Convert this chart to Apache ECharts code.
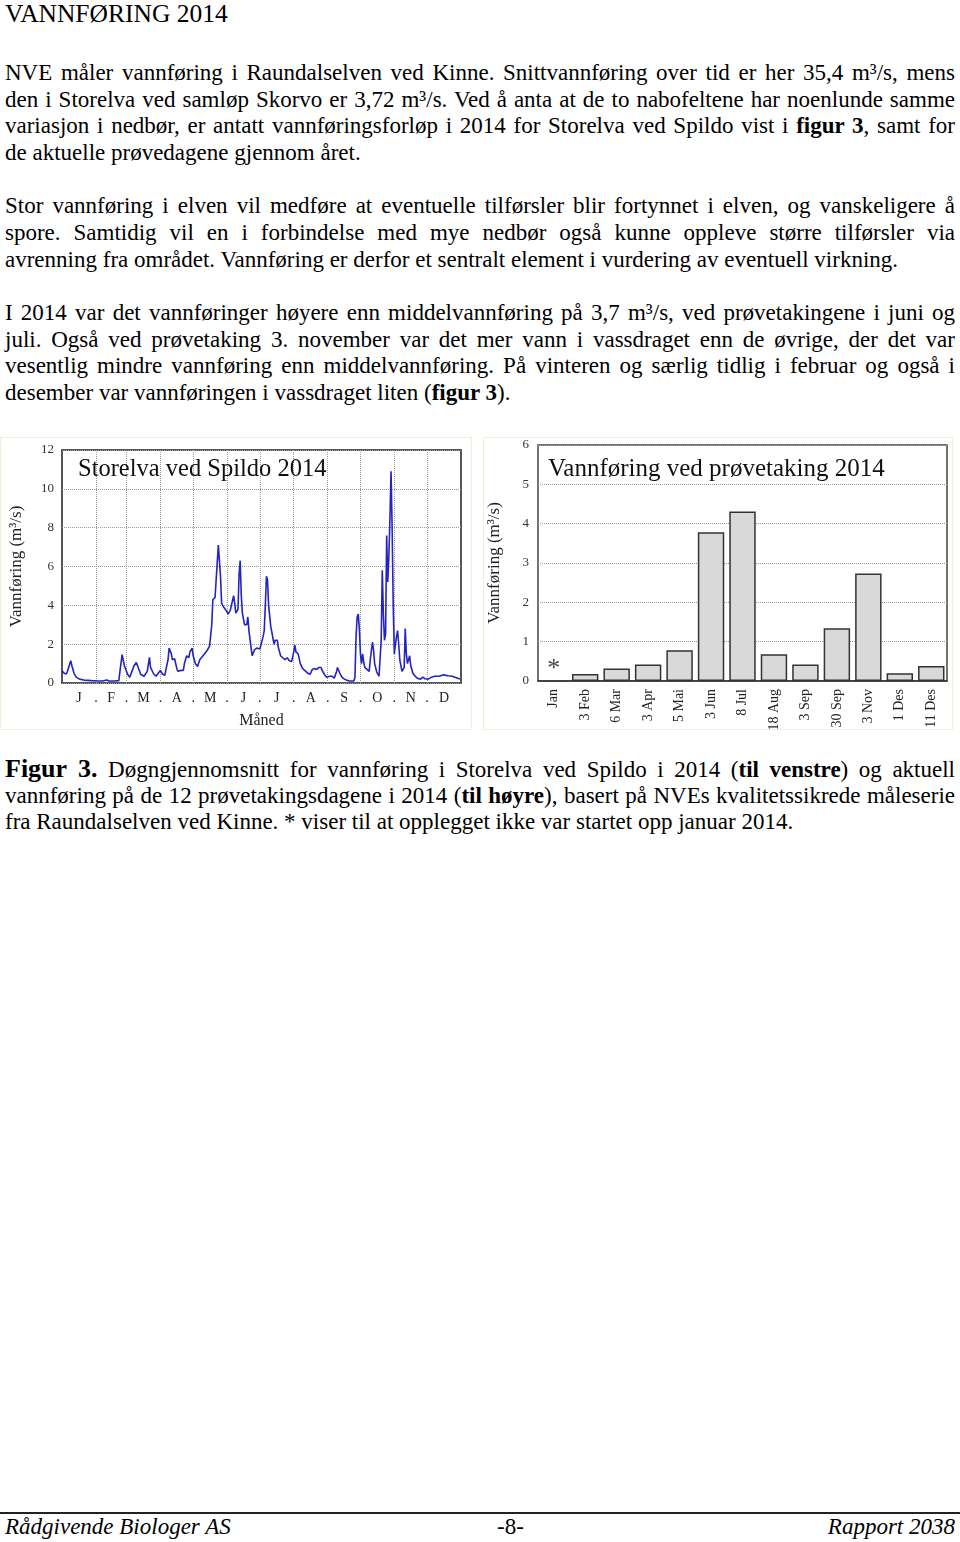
<!DOCTYPE html>
<html>
<head>
<meta charset="utf-8">
<title>Vannføring 2014</title>
<script src="https://cdn.jsdelivr.net/npm/echarts@6/dist/echarts.min.js"></script>
<style>
    body {
        margin: 0;
        background: #fff;
    }

    .page {
        position: relative;
        width: 960px;
        height: 1542px;
        font-family: 'Liberation Serif', 'Times New Roman', serif;
        color: #000;
        overflow: hidden;
    }

    .head {
        position: absolute;
        left: 5px;
        top: 0;
        font-size: 25.5px;
        line-height: 28px;
    }

    .block {
        position: absolute;
        left: 5px;
        width: 950px;
        font-size: 23px;
    }

    .ln {
        height: 26.67px;
        line-height: 26.67px;
        white-space: nowrap;
        text-align: justify;
        text-align-last: justify;
    }

    .ln.last {
        text-align: left;
        text-align-last: left;
    }

    .fig {
        font-size: 26px;
        font-weight: bold;
    }

    .chart {
        position: absolute;
        top: 437px;
        height: 293px;
        border: 1px solid #f3efd6;
        box-sizing: border-box;
    }

    .footer-line {
        position: absolute;
        left: 0;
        top: 1512px;
        width: 960px;
        height: 2px;
        background: #222;
    }

    .footer {
        position: absolute;
        top: 1514px;
        font-size: 23px;
        line-height: 26px;
        font-style: italic;
    }
</style>
</head>
<body>
<div class="page">
    <div class="head">VANNFØRING 2014</div>

    <div class="block" style="top:60px;">
        <div class="ln">NVE måler vannføring i Raundalselven ved Kinne. Snittvannføring over tid er her 35,4 m³/s, mens</div>
        <div class="ln">den i Storelva ved samløp Skorvo er 3,72 m³/s. Ved å anta at de to nabofeltene har noenlunde samme</div>
        <div class="ln">variasjon i nedbør, er antatt vannføringsforløp i 2014 for Storelva ved Spildo vist i <b>figur 3</b>, samt for</div>
        <div class="ln last">de aktuelle prøvedagene gjennom året.</div>
        <div class="ln last"></div>
        <div class="ln">Stor vannføring i elven vil medføre at eventuelle tilførsler blir fortynnet i elven, og vanskeligere å</div>
        <div class="ln">spore. Samtidig vil en i forbindelse med mye nedbør også kunne oppleve større tilførsler via</div>
        <div class="ln last">avrenning fra området. Vannføring er derfor et sentralt element i vurdering av eventuell virkning.</div>
        <div class="ln last"></div>
        <div class="ln">I 2014 var det vannføringer høyere enn middelvannføring på 3,7 m³/s, ved prøvetakingene i juni og</div>
        <div class="ln">juli. Også ved prøvetaking 3. november var det mer vann i vassdraget enn de øvrige, der det var</div>
        <div class="ln">vesentlig mindre vannføring enn middelvannføring. På vinteren og særlig tidlig i februar og også i</div>
        <div class="ln last">desember var vannføringen i vassdraget liten (<b>figur 3</b>).</div>
    </div>

    <div id="left" class="chart" style="left:0; width:472px;"></div>
    <div id="right" class="chart" style="left:483px; width:470px;"></div>

    <div class="block" style="top:756px;">
        <div class="ln"><span class="fig">Figur 3.</span> Døgngjennomsnitt for vannføring i Storelva ved Spildo i 2014 (<b>til venstre</b>) og aktuell</div>
        <div class="ln">vannføring på de 12 prøvetakingsdagene i 2014 (<b>til høyre</b>), basert på NVEs kvalitetssikrede måleserie</div>
        <div class="ln last">fra Raundalselven ved Kinne. * viser til at opplegget ikke var startet opp januar 2014.</div>
    </div>

    <div class="footer-line"></div>
    <div class="footer" style="left:5px;">Rådgivende Biologer AS</div>
    <div class="footer" style="left:497px; font-style:normal;">-8-</div>
    <div class="footer" style="right:5px;">Rapport 2038</div>
</div>

<script>
// dag i året (0 = 1. januar) og døgnmiddel vannføring (m³/s), lest av figuren
const flowDays = [
    0, 2, 4, 5, 8, 9, 11, 13, 16, 20, 27, 33, 37, 41, 43, 48, 52, 53, 55, 57,
    60, 62, 64, 66, 68, 70, 72, 75, 78, 80, 81, 84, 86, 88, 90, 92, 94, 97, 98, 100,
    101, 103, 105, 106, 109, 111, 112, 114, 116, 117, 119, 120, 122, 124, 126, 129, 131, 133, 135, 137,
    138, 140, 141, 142, 143, 144, 145, 146, 148, 150, 152, 154, 155, 157, 158, 159, 161, 162, 163, 164,
    165, 167, 169, 170, 171, 173, 174, 176, 178, 181, 182, 184, 185, 186, 187, 188, 189, 191, 192, 194,
    195, 197, 198, 200, 202, 204, 206, 208, 210, 212, 213, 214, 216, 218, 220, 222, 223, 225, 227, 229,
    231, 233, 235, 237, 238, 240, 242, 245, 247, 249, 251, 252, 253, 255, 257, 260, 263, 267, 268, 269,
    270, 271, 272, 273, 274, 275, 276, 277, 278, 279, 281, 282, 284, 285, 286, 288, 290, 291, 292, 293,
    294, 295, 296, 297, 298, 299, 300, 301, 302, 303, 304, 305, 306, 307, 308, 309, 311, 312, 313, 314,
    315, 316, 317, 318, 319, 321, 323, 325, 328, 330, 332, 335, 338, 341, 345, 349, 353, 357, 360, 364
]
const flowValues = [
    0.63, 0.5, 0.46, 0.6, 1.15, 0.9, 0.5, 0.3, 0.2, 0.15, 0.12, 0.1, 0.1, 0.15, 0.1, 0.1, 0.12, 0.6, 1.46, 0.9,
    0.45, 0.3, 0.6, 0.9, 1.06, 0.75, 0.45, 0.35, 0.6, 1.32, 0.8, 0.45, 0.35, 0.5, 0.65, 0.45, 0.4, 1.2, 1.8, 1.5,
    1.2, 1.25, 0.75, 0.6, 0.65, 0.65, 1.0, 1.4, 1.3, 1.6, 1.8, 1.4, 1.0, 0.85, 1.2, 1.4, 1.55, 1.7, 1.9, 3.0,
    4.3, 4.4, 4.3, 6.2, 7.1, 7.0, 5.5, 4.1, 3.9, 3.75, 3.55, 3.75, 3.7, 4.5, 4.1, 3.6, 3.8, 5.6, 6.3, 4.5,
    3.6, 3.0, 3.0, 3.4, 2.7, 1.8, 1.4, 1.7, 1.8, 1.75, 1.7, 2.4, 2.7, 4.0, 5.5, 5.3, 4.0, 2.9, 2.6, 2.0,
    2.2, 2.2, 1.8, 1.4, 1.3, 1.2, 1.3, 1.15, 1.1, 1.6, 1.95, 1.6, 1.5, 1.0, 0.75, 0.65, 0.7, 0.5, 0.45, 0.7,
    0.75, 0.7, 0.8, 0.8, 0.65, 0.45, 0.3, 0.35, 0.35, 0.25, 0.55, 0.8, 0.7, 0.4, 0.25, 0.15, 0.1, 0.1, 0.3, 2.4,
    3.4, 3.55, 2.8, 1.5, 1.0, 1.5, 1.1, 0.8, 0.9, 0.7, 0.6, 1.2, 2.1, 1.7, 1.0, 0.55, 0.35, 0.35, 2.2, 5.8,
    3.5, 2.2, 2.5, 7.6, 5.2, 6.5, 8.5, 10.9, 8.0, 4.0, 1.5, 2.0, 2.4, 2.7, 2.0, 1.2, 0.6, 0.5, 0.8, 2.8,
    1.5, 1.0, 1.2, 1.4, 0.9, 0.5, 0.35, 0.25, 0.2, 0.3, 0.22, 0.2, 0.3, 0.35, 0.35, 0.42, 0.37, 0.35, 0.28, 0.2
]

// månedsgrenser og forbokstaver til x-aksen
const monthStarts = [0, 31, 59, 90, 120, 151, 181, 212, 243, 273, 304, 334, 365]
const monthInitials = ['J', 'F', 'M', 'A', 'M', 'J', 'J', 'A', 'S', 'O', 'N', 'D']

// prøvetakingsdager og vannføring (m³/s), januar mangler (*)
const sampleDates = ['Jan', '3 Feb', '6 Mar', '3 Apr', '5 Mai', '3 Jun', '8 Jul', '18 Aug', '3 Sep', '30 Sep', '3 Nov', '1 Des', '11 Des']
const sampleFlow = [null, 0.18, 0.32, 0.42, 0.78, 3.78, 4.31, 0.68, 0.42, 1.34, 2.73, 0.2, 0.38]
const missingMark = ['Jan', 0.3]

const font = 'Liberation Serif'
const gridLine = { type: 'dotted', color: '#9a9a9a', width: 1 }

// etiketter: bokstav midt i måneden, punktum på grensen
const labelMap = {}
const labelValues = []
monthInitials.forEach((m, i) => {
    const mid = (monthStarts[i] + monthStarts[i + 1]) / 2
    labelMap[mid] = m
    labelValues.push(mid)
    if (i < 11) {
        labelMap[monthStarts[i + 1]] = '.'
        labelValues.push(monthStarts[i + 1])
    }
})

const left = echarts.init(document.getElementById('left'))
left.setOption({
    animation: false,
    textStyle: { fontFamily: font },
    title: {
        text: 'Storelva ved Spildo 2014',
        left: 72,
        top: 14,
        textStyle: { fontFamily: font, fontSize: 24.5, fontWeight: 'normal', color: '#111' }
    },
    grid: {
        left: 61, top: 12, width: 399, height: 233,
        outerBoundsMode: 'none',
        show: true, borderColor: '#555', borderWidth: 2, backgroundColor: '#fff'
    },
    xAxis: {
        type: 'value',
        min: 0,
        max: 365,
        name: 'Måned',
        nameLocation: 'middle',
        nameGap: 30,
        nameTextStyle: { fontFamily: font, fontSize: 16, color: '#222' },
        axisLine: { show: false },
        axisTick: { show: false, customValues: monthStarts.slice(1, 12) },
        axisLabel: {
            customValues: labelValues,
            formatter: (v) => labelMap[v],
            fontFamily: font, fontSize: 14, color: '#222', margin: 8
        },
        splitLine: { show: true, lineStyle: gridLine }
    },
    yAxis: {
        type: 'value',
        min: 0,
        max: 12,
        interval: 2,
        name: 'Vannføring (m³/s)',
        nameLocation: 'middle',
        nameGap: 37,
        nameTextStyle: { fontFamily: font, fontSize: 17, color: '#222' },
        axisLine: { show: false },
        axisTick: { show: false },
        axisLabel: { fontFamily: font, fontSize: 13, color: '#333', margin: 8 },
        splitLine: { lineStyle: gridLine }
    },
    series: [
        {
            type: 'line',
            data: flowDays.map((d, i) => [d, flowValues[i]]),
            showSymbol: false,
            lineStyle: { width: 1.6, color: '#2424c0' },
            itemStyle: { color: '#2424c0' },
            z: 3
        }
    ]
})

const right = echarts.init(document.getElementById('right'))
right.setOption({
    animation: false,
    textStyle: { fontFamily: font },
    title: {
        text: 'Vannføring ved prøvetaking 2014',
        left: 59,
        top: 14,
        textStyle: { fontFamily: font, fontSize: 25, fontWeight: 'normal', color: '#111' }
    },
    grid: {
        left: 54, top: 7, width: 409, height: 236,
        outerBoundsMode: 'none',
        show: true, borderColor: '#444', borderWidth: 1.5, backgroundColor: '#fff'
    },
    xAxis: {
        type: 'category',
        data: sampleDates,
        axisLine: { show: true, lineStyle: { color: '#333', width: 1.5 } },
        axisTick: { alignWithLabel: true, length: 5, lineStyle: { color: '#333' } },
        axisLabel: { rotate: 90, interval: 0, fontFamily: font, fontSize: 14, color: '#222', margin: 8 },
        splitLine: { show: false }
    },
    yAxis: {
        type: 'value',
        min: 0,
        max: 6,
        interval: 1,
        name: 'Vannføring (m³/s)',
        nameLocation: 'middle',
        nameGap: 35,
        nameTextStyle: { fontFamily: font, fontSize: 17, color: '#222' },
        axisLine: { show: false },
        axisTick: { show: false },
        axisLabel: { fontFamily: font, fontSize: 13, color: '#333', margin: 9 },
        splitLine: { lineStyle: gridLine }
    },
    series: [
        {
            type: 'bar',
            data: sampleFlow,
            barCategoryGap: '16%',
            itemStyle: { color: '#d9d9d9', borderColor: '#333', borderWidth: 1.5 }
        },
        {
            type: 'scatter',
            data: [missingMark],
            symbol: 'circle',
            symbolSize: 1,
            itemStyle: { color: 'rgba(0,0,0,0)' },
            label: {
                show: true,
                position: 'inside',
                formatter: '*',
                fontFamily: font,
                fontSize: 26,
                color: '#111'
            },
            z: 5
        }
    ]
})
</script>
</body>
</html>
